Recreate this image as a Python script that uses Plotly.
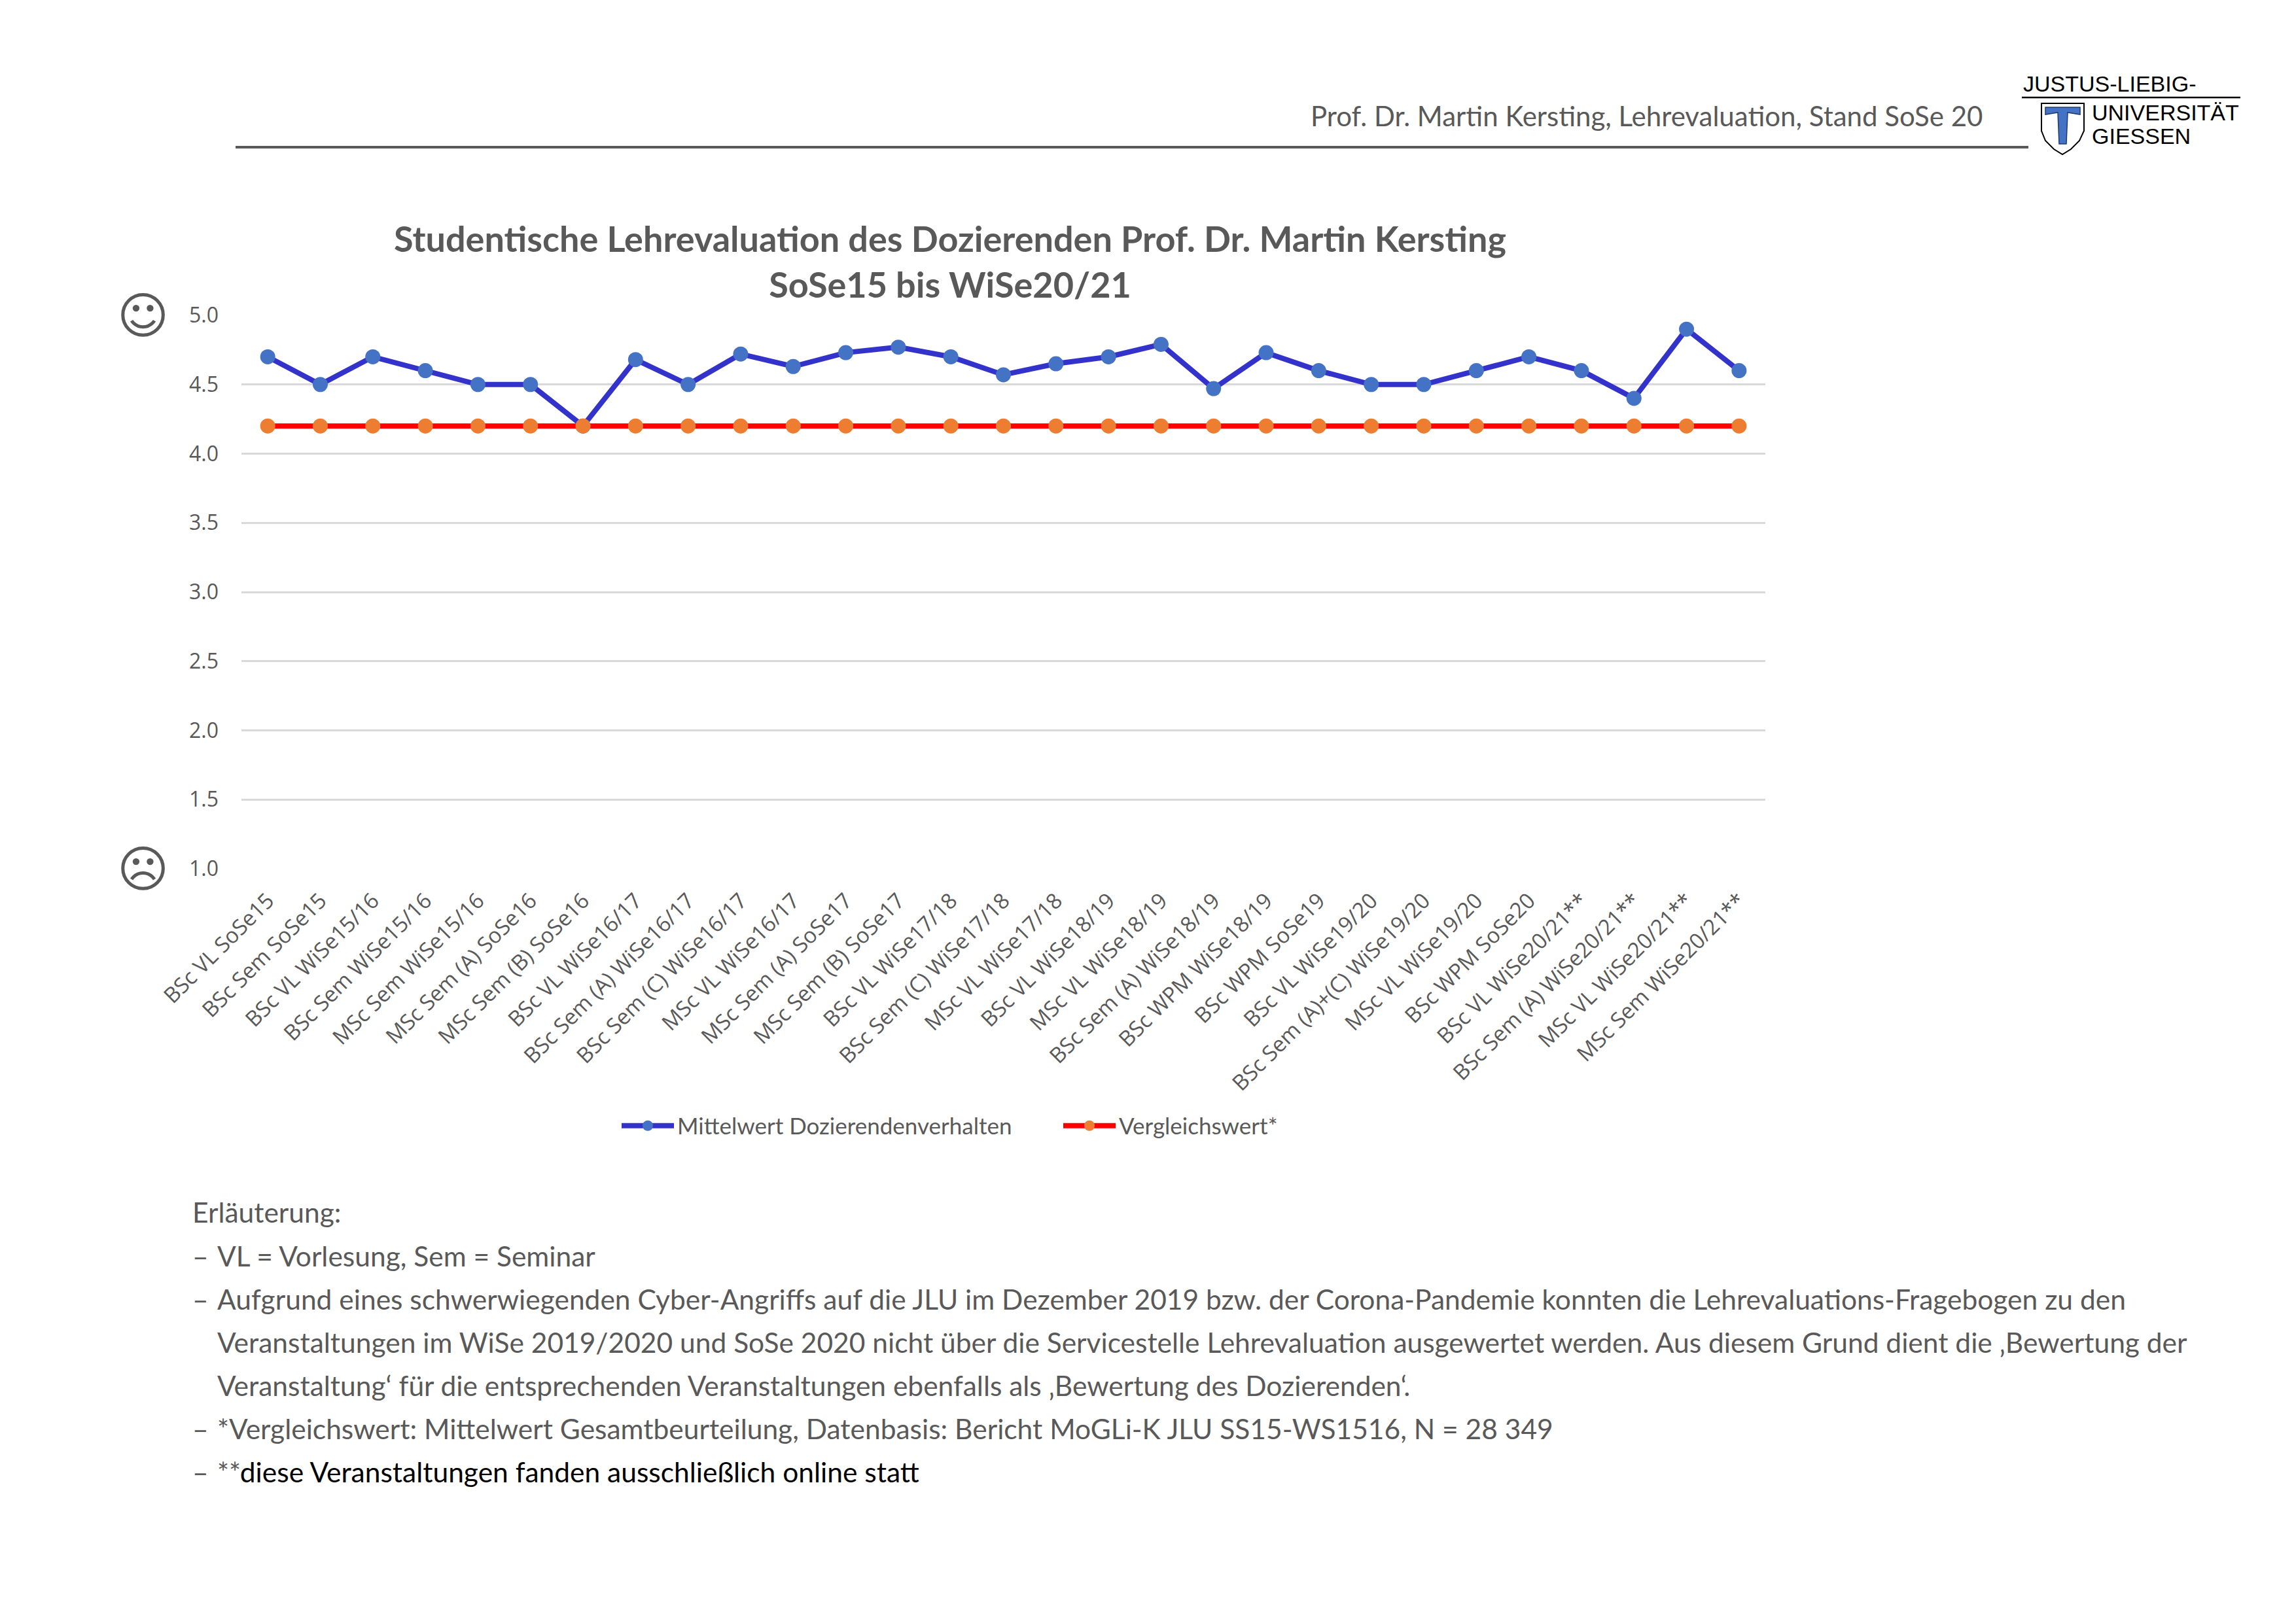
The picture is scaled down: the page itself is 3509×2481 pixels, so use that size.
import plotly.graph_objects as go

# %% data
kurse = [
    "BSc VL SoSe15", "BSc Sem SoSe15", "BSc VL WiSe15/16", "BSc Sem WiSe15/16",
    "MSc Sem WiSe15/16", "MSc Sem (A) SoSe16", "MSc Sem (B) SoSe16", "BSc VL WiSe16/17",
    "BSc Sem (A) WiSe16/17", "BSc Sem (C) WiSe16/17", "MSc VL WiSe16/17", "MSc Sem (A) SoSe17",
    "MSc Sem (B) SoSe17", "BSc VL WiSe17/18", "BSc Sem (C) WiSe17/18", "MSc VL WiSe17/18",
    "BSc VL WiSe18/19", "MSc VL WiSe18/19", "BSc Sem (A) WiSe18/19", "BSc WPM WiSe18/19",
    "BSc WPM SoSe19", "BSc VL WiSe19/20", "BSc Sem (A)+(C) WiSe19/20", "MSc VL WiSe19/20",
    "BSc WPM SoSe20", "BSc VL WiSe20/21**", "BSc Sem (A) WiSe20/21**", "MSc VL WiSe20/21**",
    "MSc Sem WiSe20/21**",
]
mittelwert = [
    4.70, 4.50, 4.70, 4.60, 4.50, 4.50, 4.20, 4.68, 4.50, 4.72,
    4.63, 4.73, 4.77, 4.70, 4.57, 4.65, 4.70, 4.79, 4.47, 4.73,
    4.60, 4.50, 4.50, 4.60, 4.70, 4.60, 4.40, 4.90, 4.60,
]
vergleich = [4.2] * len(kurse)
y_ticks = [1.0, 1.5, 2.0, 2.5, 3.0, 3.5, 4.0, 4.5, 5.0]

titel = "Studentische Lehrevaluation des Dozierenden Prof. Dr. Martin Kersting<br>SoSe15 bis WiSe20/21"
kopfzeile = "Prof. Dr. Martin Kersting, Lehrevaluation, Stand SoSe 20"
erlaeuterung = [
    ("", "Erläuterung:"),
    ("–", "VL = Vorlesung, Sem = Seminar"),
    ("–", "Aufgrund eines schwerwiegenden Cyber-Angriffs auf die JLU im Dezember 2019 bzw. der Corona-Pandemie konnten die Lehrevaluations-Fragebogen zu den"),
    ("", "Veranstaltungen im WiSe 2019/2020 und SoSe 2020 nicht über die Servicestelle Lehrevaluation ausgewertet werden. Aus diesem Grund dient die ‚Bewertung der"),
    ("", "Veranstaltung‘ für die entsprechenden Veranstaltungen ebenfalls als ‚Bewertung des Dozierenden‘."),
    ("–", "*Vergleichswert: Mittelwert Gesamtbeurteilung, Datenbasis: Bericht MoGLi-K JLU SS15-WS1516, N = 28 349"),
    ("–", "**<span style='color:#000000'>diese Veranstaltungen fanden ausschließlich online statt</span>"),
]

# %% page geometry: screen pixels -> paper (the html body adds an 8px margin)
RAND = 8
W, H = 3509 - 2 * RAND, 2481 - 2 * RAND
GRAU = "#595959"


def px(x):
    return (x - RAND) / W


def py(y):
    return 1 - (y - RAND) / H


# %% figure
fig = go.Figure()
fig.add_trace(go.Scatter(
    x=kurse, y=mittelwert, mode="lines+markers", name="Mittelwert Dozierendenverhalten",
    line=dict(color="#3333CC", width=8),
    marker=dict(color="#4472C4", size=23),
    cliponaxis=False,
))
fig.add_trace(go.Scatter(
    x=kurse, y=vergleich, mode="lines+markers", name="Vergleichswert*",
    line=dict(color="#FF0000", width=8),
    marker=dict(color="#ED7D31", size=23),
    cliponaxis=False,
))

fig.update_layout(
    width=W, height=H, autosize=False,
    margin=dict(l=0, r=0, t=0, b=0, pad=0, autoexpand=False),
    paper_bgcolor="white", plot_bgcolor="white",
    font=dict(family="Open Sans", color=GRAU, size=32),
    showlegend=True,
    legend=dict(
        orientation="h", x=px(945), xanchor="left", y=py(1721), yanchor="middle",
        font=dict(family="Lato", size=35, color=GRAU),
        itemwidth=80,
        entrywidth=580, entrywidthmode="pixels",
        bgcolor="rgba(0,0,0,0)",
    ),
    title=dict(
        text=titel, x=px(1452), xanchor="center", y=py(385), yanchor="middle",
        font=dict(family="Lato", size=54, color=GRAU, weight="bold"),
    ),
)
fig.update_xaxes(
    domain=[px(369), px(2698)], type="category", automargin=False,
    range=[-0.5, len(kurse) - 0.5],
    showgrid=False, showline=False, zeroline=False, ticks="",
    tickangle=-45, tickfont=dict(family="Open Sans", size=33, color=GRAU),
    ticklabelstandoff=22,
)
fig.update_yaxes(
    domain=[py(1328), py(482)], range=[1, 5], automargin=False,
    tickvals=y_ticks, tickformat=".1f",
    showgrid=True, gridcolor="#D9D9D9", gridwidth=3,
    showline=False, zeroline=False, ticks="",
    tickfont=dict(family="Open Sans", size=32, color=GRAU),
    ticklabelstandoff=34,
)

# smileys next to the scale ends
for sym, yy in [("☺", 482), ("☹", 1328)]:
    fig.add_annotation(
        text=sym, xref="paper", yref="paper", x=px(218), y=py(yy),
        xanchor="center", yanchor="middle", showarrow=False,
        font=dict(family="DejaVu Sans", size=76, color=GRAU),
    )

# header
fig.add_annotation(
    text=kopfzeile, xref="paper", yref="paper", x=px(3032), y=py(177),
    xanchor="right", yanchor="middle", showarrow=False,
    font=dict(family="Lato", size=42, color=GRAU),
)
fig.add_shape(type="line", xref="paper", yref="paper",
              x0=px(360), x1=px(3100), y0=py(225), y1=py(225),
              line=dict(color=GRAU, width=4))

# logo
for txt, xx, yy in [("JUSTUS-LIEBIG-", 3090, 128), ("UNIVERSITÄT", 3195, 172), ("GIESSEN", 3195, 208)]:
    fig.add_annotation(
        text=txt, xref="paper", yref="paper", x=px(xx), y=py(yy),
        xanchor="left", yanchor="middle", showarrow=False,
        font=dict(family="Liberation Sans", size=34, color="#000000"),
    )
fig.add_shape(type="line", xref="paper", yref="paper",
              x0=px(3090), x1=px(3424), y0=py(149), y1=py(149),
              line=dict(color="#000000", width=2.5))


def pfad(punkte):
    return "M " + " L ".join(f"{px(a):.5f},{py(b):.5f}" for a, b in punkte) + " Z"


schild = [(3120, 158), (3185, 158), (3185, 200), (3178, 215), (3165, 228), (3152, 236),
          (3139, 228), (3126, 215), (3120, 200)]
fig.add_shape(type="path", xref="paper", yref="paper", path=pfad(schild),
              line=dict(color="#000000", width=2), fillcolor="white")
t_form = [(3126, 164), (3179, 164), (3179, 175), (3160, 172), (3158, 220), (3147, 220),
          (3145, 172), (3126, 175)]
fig.add_shape(type="path", xref="paper", yref="paper", path=pfad(t_form),
              line=dict(color="#1F3A70", width=1.5), fillcolor="#4472C4")

# explanation block
fn = dict(family="Lato", size=42.5, color=GRAU)
for i, (strich, zeile) in enumerate(erlaeuterung):
    yy = 1853 + 66 * i
    if i == 0:
        fig.add_annotation(text=zeile, xref="paper", yref="paper", x=px(292), y=py(yy),
                           xanchor="left", yanchor="middle", showarrow=False, font=fn)
        continue
    if strich:
        fig.add_annotation(text=strich, xref="paper", yref="paper", x=px(292), y=py(yy),
                           xanchor="left", yanchor="middle", showarrow=False, font=fn)
    fig.add_annotation(text=zeile, xref="paper", yref="paper", x=px(330), y=py(yy),
                       xanchor="left", yanchor="middle", showarrow=False, font=fn)

fig.write_html("out.html")
